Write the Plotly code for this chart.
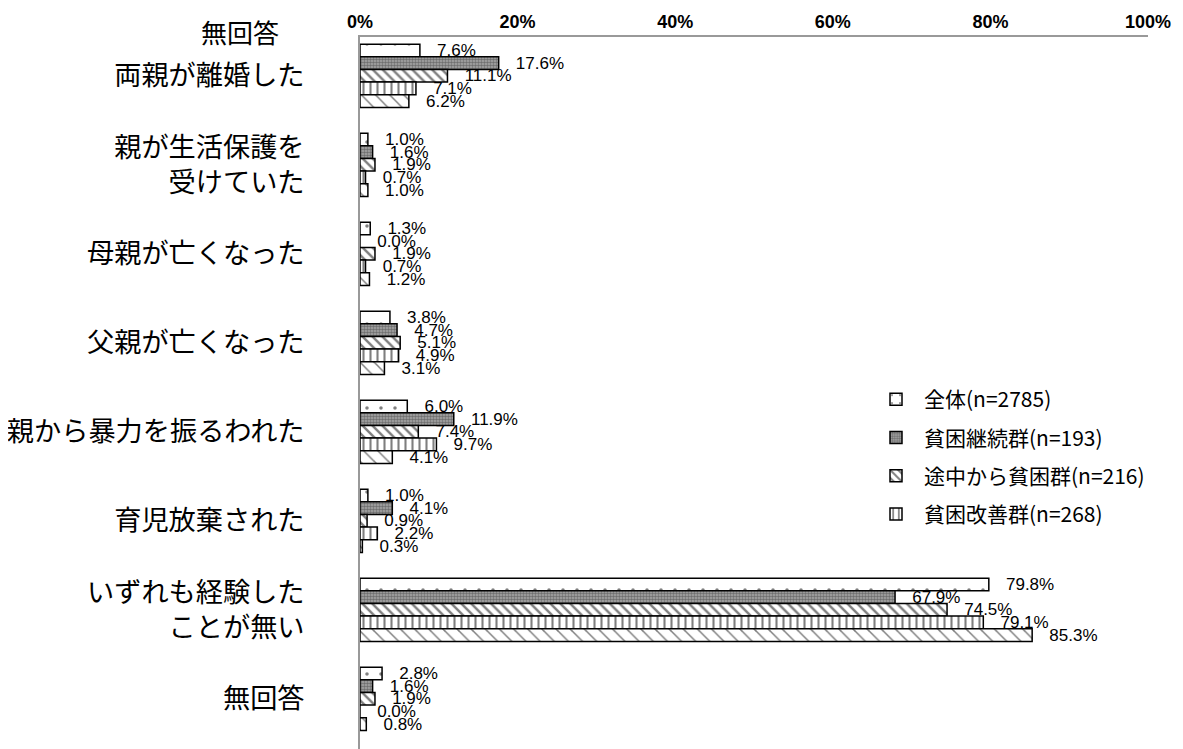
import plotly.graph_objects as go

categories = ["両親が離婚した", "親が生活保護を<br>受けていた", "母親が亡くなった", "父親が亡くなった",
              "親から暴力を振るわれた", "育児放棄された", "いずれも経験した<br>ことが無い", "無回答"]
series_names = ["全体(n=2785)", "貧困継続群(n=193)", "途中から貧困群(n=216)", "貧困改善群(n=268)", "無回答"]
v_total = [7.6, 1.0, 1.3, 3.8, 6.0, 1.0, 79.8, 2.8]
v_cont = [17.6, 1.6, 0.0, 4.7, 11.9, 4.1, 67.9, 1.6]
v_mid = [11.1, 1.9, 1.9, 5.1, 7.4, 0.9, 74.5, 1.9]
v_impr = [7.1, 0.7, 0.7, 4.9, 9.7, 2.2, 79.1, 0.0]
v_na = [6.2, 1.0, 1.2, 3.1, 4.1, 0.3, 85.3, 0.8]
x_ticks = [0, 20, 40, 60, 80, 100]

values = [v_total, v_cont, v_mid, v_impr, v_na]
patterns = [
    dict(shape=".", size=14, solidity=0.05, fgcolor="black", bgcolor="white", fillmode="overlay"),
    dict(shape=".", size=3, solidity=0.55, fgcolor="#333333", bgcolor="#aaaaaa", fillmode="overlay"),
    dict(shape="\\", size=7, solidity=0.35, fgcolor="black", bgcolor="white", fillmode="overlay"),
    dict(shape="|", size=7, solidity=0.3, fgcolor="black", bgcolor="white", fillmode="overlay"),
    dict(shape="\\", size=10, solidity=0.15, fgcolor="black", bgcolor="white", fillmode="overlay"),
]

# the page body has an 8px margin; compensate so the figure lines up with the window
OFF = 8
W, H = 1183 - OFF, 749 - OFF
L, T, B = 360 - OFF, 37 - OFF, 0
R = W - (1148 - OFF)
PW = W - L - R
PH = H - T - B

def px_x(x):
    return (x - OFF - L) / PW

def px_y(y):
    return 1 - (y - OFF - T) / PH

fig = go.Figure()
for i, (name, vals, pat) in enumerate(zip(series_names, values, patterns)):
    fig.add_trace(go.Bar(
        y=categories, x=vals, name=name, orientation="h",
        marker=dict(color="white", pattern=pat, line=dict(color="black", width=1.5)),
        text=[f"\u00a0\u00a0\u00a0{v:.1f}%" for v in vals], textposition="outside",
        textfont=dict(size=17, color="black", family="Liberation Sans, Arial"),
        constraintext="none", cliponaxis=False,
        legendgroup=f"g{i}", showlegend=(i < 4),
    ))

fig.add_annotation(text="無回答", x=px_x(240), y=px_y(32), xref="paper", yref="paper",
                   xanchor="center", yanchor="middle",
                   showarrow=False, font=dict(size=26, color="black"))

# category band of ~89px; first group centred ~39px below the top axis line
band = 89.0
r0 = -(75.8 - 37) / band
r1 = r0 + (749 - 37) / band

fig.update_layout(
    width=W, height=H,
    margin=dict(l=L, r=R, t=T, b=B, autoexpand=False),
    plot_bgcolor="white", paper_bgcolor="white",
    font=dict(family="Noto Sans CJK JP", color="black"),
    barmode="group", bargap=0.29, bargroupgap=0,
    legend=dict(x=px_x(868), y=px_y(379), xanchor="left", yanchor="top", itemwidth=46,
                font=dict(size=21), tracegroupgap=8, bgcolor="rgba(0,0,0,0)"),
    showlegend=True,
)
fig.update_xaxes(side="top", range=[0, 100], tickvals=x_ticks, ticktext=[f"{t}%" for t in x_ticks],
                 showgrid=False, showline=True, linecolor="#999999", linewidth=2,
                 ticks="", automargin=False,
                 tickfont=dict(size=18, family="Liberation Sans, Arial", color="black", weight="bold"),
                 zeroline=False)
fig.update_yaxes(range=[r1, r0], showgrid=False, showline=True, linecolor="#999999", linewidth=2,
                 ticks="", tickfont=dict(size=27.2), ticklabelstandoff=48, automargin=False)

fig.write_html("out.html")
